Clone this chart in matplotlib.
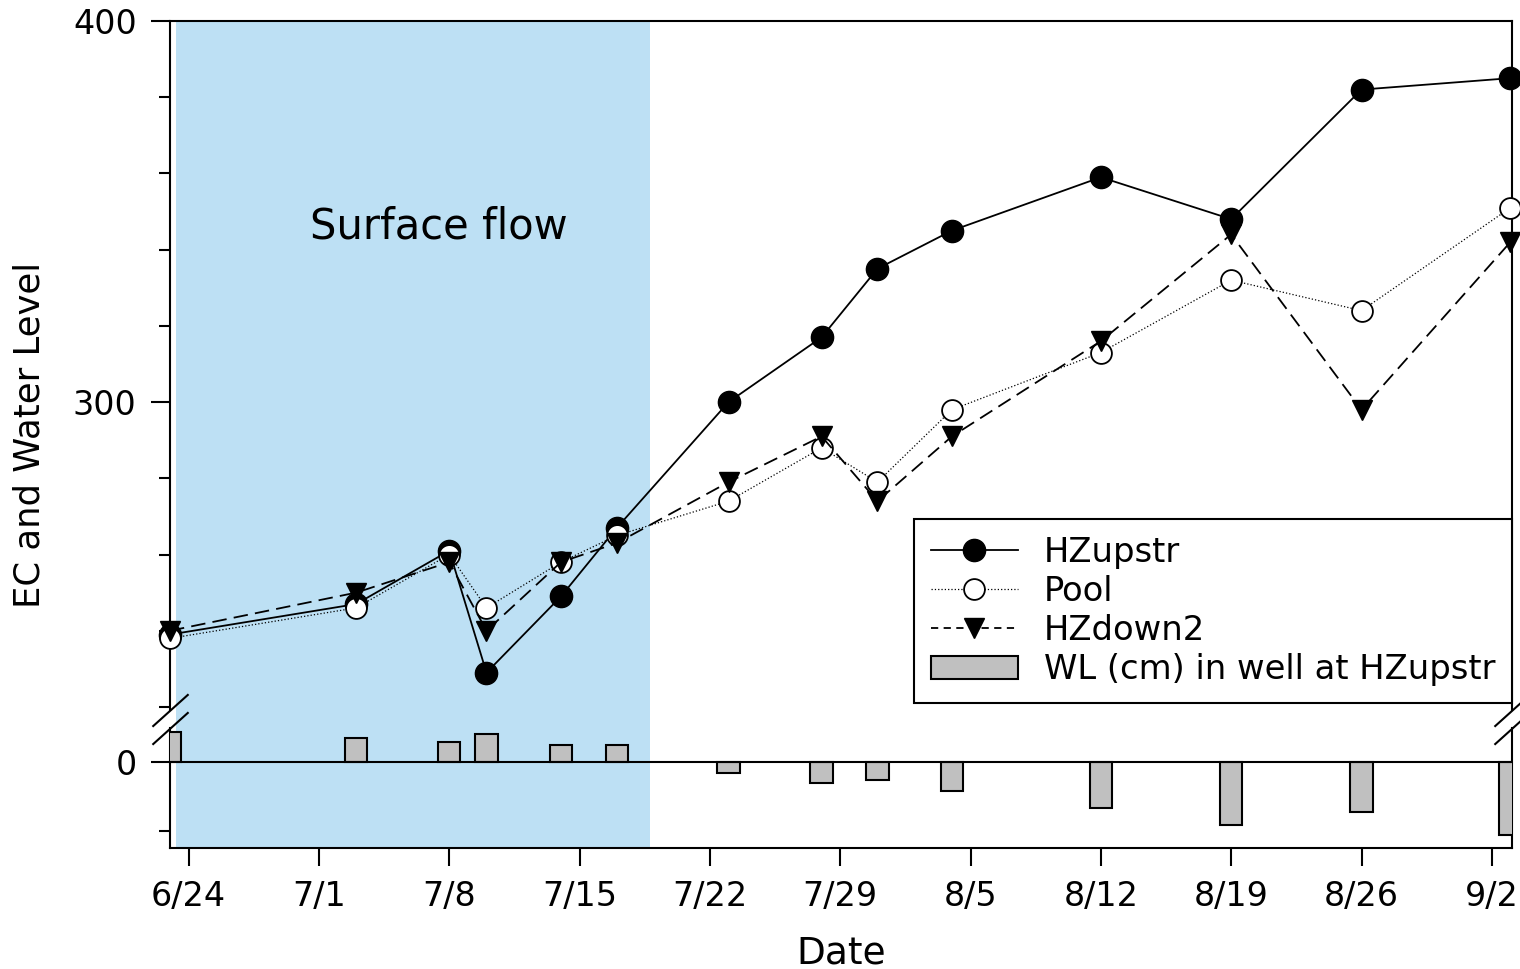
import pandas as pd
import matplotlib
matplotlib.use("Agg")
import matplotlib.pyplot as plt
from matplotlib.lines import Line2D
from matplotlib.patches import Patch
from matplotlib.ticker import MultipleLocator

plt.rcParams['font.family'] = ['DejaVu Sans']

YEAR = 2013

# sampling dates (m/d) and values
sample_dates = ["6/23", "7/3", "7/8", "7/10", "7/14", "7/17", "7/23",
                "7/28", "7/31", "8/4", "8/12", "8/19", "8/26", "9/3"]
hz_upstr = [239, 247, 261, 229, 249, 267, 300, 317, 335, 345, 359, 348, 382, 385]
pool = [238, 246, 260, 246, 258, 265, 274, 288, 279, 298, 313, 332, 324, 351]
hz_down2 = [240, 250, 258, 240, 258, 263, 279, 291, 274, 291, 316, 344, 298, 342]
wl_cm = [8.8, 7.0, 5.8, 8.3, 4.9, 4.9, -3.2, -6.1, -5.2, -8.3, -13.2, -18.3, -14.4, -21.2]

tick_dates = ["6/24", "7/1", "7/8", "7/15", "7/22", "7/29", "8/5",
              "8/12", "8/19", "8/26", "9/2"]

surface_flow_start = "6/23 08:00"
surface_flow_end = "7/18 19:00"


def to_date(s):
    return pd.to_datetime(f"{YEAR}/{s}")


dates = [to_date(d) for d in sample_dates]
ticks = [to_date(d) for d in tick_dates]
xlim = (to_date("6/23 00:00"), to_date("9/3 02:00"))

fig = plt.figure(figsize=(15.2, 9.69), dpi=100)
left, right = 170 / 1520, 1512 / 1520
ax1 = fig.add_axes([left, 1 - 710 / 969, right - left, (710 - 21) / 969])
ax2 = fig.add_axes([left, 1 - 848 / 969, right - left, (848 - 728) / 969])

shade = "#bde0f4"
ax1.axvspan(to_date(surface_flow_start), to_date(surface_flow_end),
            ymin=-0.03, ymax=1, color=shade, lw=0, zorder=0, clip_on=False)
ax2.axvspan(to_date(surface_flow_start), to_date(surface_flow_end),
            color=shade, lw=0, zorder=0)

# EC series
ax1.plot(dates, hz_upstr, color="k", lw=1.3, marker="o", ms=16,
         mfc="k", mec="k", clip_on=False, zorder=3)
ax1.plot(dates, pool, color="k", lw=0.9, ls=":", marker="o", ms=15,
         mfc="white", mec="k", mew=1.3, clip_on=False, zorder=4)
ax1.plot(dates, hz_down2, color="k", lw=1.3, ls=(0, (8, 4)), marker="v", ms=15,
         mfc="k", mec="k", clip_on=False, zorder=5)

ax1.text(to_date("7/7 10:00"), 346, "Surface flow", fontsize=30,
         ha="center", va="center")

# water level bars
ax2.bar(dates, wl_cm, width=1.2, color="#c0c0c0", edgecolor="k", lw=1.5, zorder=3)
ax2.axhline(0, color="k", lw=1.5, zorder=4)

for ax in (ax1, ax2):
    ax.set_xlim(*xlim)
    for sp in ax.spines.values():
        sp.set_linewidth(1.5)

ax1.set_ylim(219.2, 400)
ax1.yaxis.set_major_locator(MultipleLocator(100))
ax1.yaxis.set_minor_locator(MultipleLocator(20))
ax1.spines["bottom"].set_visible(False)
ax1.tick_params(axis="x", bottom=False, labelbottom=False)
ax1.tick_params(axis="y", which="major", length=14, width=1.5, labelsize=24, pad=10)
ax1.tick_params(axis="y", which="minor", length=8, width=1.5)

ax2.set_ylim(-24.9, 9.9)
ax2.set_yticks([0])
ax2.set_yticks([-20], minor=True)
ax2.spines["top"].set_visible(False)
ax2.tick_params(axis="y", which="major", length=14, width=1.5, labelsize=24, pad=10)
ax2.tick_params(axis="y", which="minor", length=8, width=1.5)
ax2.set_xticks(ticks)
ax2.set_xticklabels(tick_dates)
ax2.tick_params(axis="x", length=13, width=1.5, labelsize=24, pad=10)
ax2.set_xlabel("Date", fontsize=27, labelpad=16)

fig.text(30 / 1520, 1 - 435 / 969, "EC and Water Level", fontsize=25.5,
         rotation=90, ha="center", va="center")

# axis break marks
kw = dict(marker=[(-1, -0.9), (1, 0.9)], markersize=26, linestyle="none",
          color="k", mec="k", mew=1.5, clip_on=False)
ax1.plot([0, 1], [0, 0], transform=ax1.transAxes, **kw)
ax2.plot([0, 1], [1, 1], transform=ax2.transAxes, **kw)

handles = [
    Line2D([], [], color="k", lw=1.3, marker="o", ms=16, mfc="k"),
    Line2D([], [], color="k", lw=0.9, ls=":", marker="o", ms=15, mfc="white", mew=1.3),
    Line2D([], [], color="k", lw=1.3, ls=(0, (4, 3)), marker="v", ms=15, mfc="k"),
    Patch(facecolor="#c0c0c0", edgecolor="k", lw=1.5),
]
labels = ["HZupstr", "Pool", "HZdown2", "WL (cm) in well at HZupstr"]
leg = ax1.legend(handles, labels, loc="lower right",
                 bbox_to_anchor=(1512 / 1520, 1 - 703 / 969),
                 bbox_transform=fig.transFigure, fontsize=24.3,
                 frameon=True, fancybox=False, framealpha=1,
                 edgecolor="k", handlelength=2.6, handletextpad=0.75,
                 labelspacing=0.18, borderpad=0.5, borderaxespad=0)
leg.get_frame().set_linewidth(1.5)
leg.set_zorder(10)

fig.savefig("out.png", dpi=100)
